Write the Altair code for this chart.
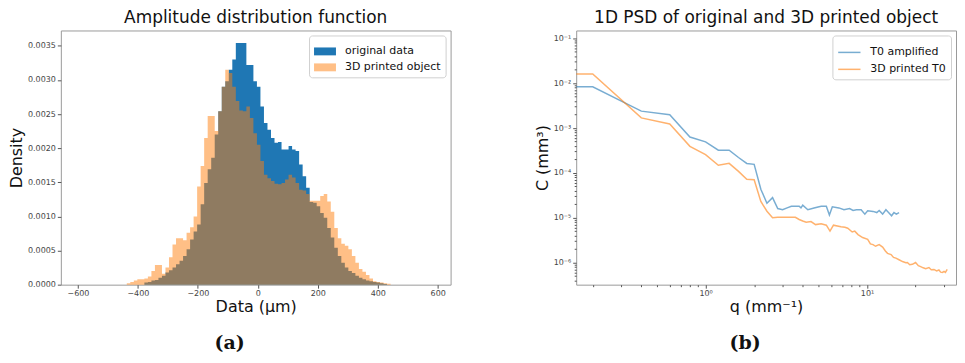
import altair as alt
import pandas as pd

# ---------------- Panel (a): histogram data ----------------
BIN_START = -437.0
BIN_WIDTH = 11.73
HIST_SERIES = ["original data", "3D printed object"]

ORIGINAL = [
    0, 0, 0, 0, 0, 0.00003, 0.00004, 0.00006, 0.00007, 0.0001,
    0.00013, 0.00018, 0.00021, 0.00025, 0.0003, 0.00035, 0.00042, 0.00052, 0.00066, 0.00078,
    0.00088, 0.00118, 0.00149, 0.00169, 0.00186, 0.0022, 0.00254, 0.0029, 0.00298, 0.00315,
    0.0033, 0.00354, 0.00354, 0.00354, 0.00322, 0.00322, 0.00298, 0.0029, 0.00261, 0.00237,
    0.00227, 0.00215, 0.00208, 0.00209, 0.00198, 0.00198, 0.00203, 0.00198, 0.00196, 0.00176,
    0.00159, 0.00142, 0.00121, 0.0012, 0.00115, 0.00105, 0.00098, 0.00083, 0.00069, 0.00054,
    0.00042, 0.00032, 0.00025, 0.0002, 0.00017, 0.00013, 0.0001, 0.00008, 0.00006, 0.00005,
    0.00004, 0.00003, 0.00002, 0.00001, 0,
]
PRINTED = [
    0.00002, 0.00004, 0.00006, 0.00008, 0.00008, 0.00009, 0.00012, 0.0002, 0.00029, 0.00029,
    0.00016, 0.00025, 0.0004, 0.00059, 0.00068, 0.00068, 0.00065, 0.00076, 0.00084, 0.001,
    0.00144, 0.00174, 0.00215, 0.00247, 0.00247, 0.00225, 0.00254, 0.0029, 0.00315, 0.0031,
    0.0029, 0.00269, 0.00255, 0.00254, 0.00261, 0.00244, 0.00222, 0.00205, 0.00181, 0.00161,
    0.00156, 0.00152, 0.00148, 0.00147, 0.00149, 0.00154, 0.00161, 0.00157, 0.00149, 0.00139,
    0.00138, 0.00133, 0.00123, 0.00123, 0.00123, 0.0013, 0.00133, 0.00122, 0.00107, 0.00083,
    0.00068, 0.0006, 0.00057, 0.00052, 0.00042, 0.00032, 0.00023, 0.00019, 0.00014, 0.00009,
    0.00005, 0.00004, 0.00003, 0.00002, 0.000015,
]

# ---------------- Panel (b): PSD data ----------------
PSD_SERIES = ["T0 amplified", "3D printed T0"]
Q_T0 = [0.158, 0.2, 0.4, 0.6, 0.8, 1.0, 1.2, 1.4, 1.6, 1.8, 2.0, 2.2, 2.4, 2.6, 2.8, 3.0,
        3.2, 3.4, 3.6, 3.8, 3.9, 4.0, 4.3, 4.7, 5.2, 5.6, 5.85, 6.1, 6.7, 7.2, 7.8, 8.2,
        8.6, 9.2, 9.7, 10.1, 10.9, 11.5, 11.9, 12.5, 13.1, 13.6, 14.2, 14.7, 15.2, 15.8]
C_T0 = [8.3e-3, 8.3e-3, 2.38e-3, 1.97e-3, 6.3e-4, 4.9e-4, 3.2e-4, 3.2e-4, 2.2e-4, 1.62e-4,
        1.55e-4, 4.3e-5, 2.1e-5, 2.8e-5, 1.6e-5, 1.5e-5, 1.65e-5, 1.8e-5, 1.8e-5, 1.8e-5,
        1.65e-5, 1.9e-5, 1.5e-5, 1.65e-5, 1.8e-5, 1.8e-5, 1.15e-5, 1.75e-5, 1.65e-5, 1.5e-5,
        1.6e-5, 1.45e-5, 1.5e-5, 1.5e-5, 1.2e-5, 1.42e-5, 1.38e-5, 1.3e-5, 1.45e-5, 1.2e-5,
        1.5e-5, 1.3e-5, 1.1e-5, 1.3e-5, 1.2e-5, 1.3e-5]
Q_3D = [0.158, 0.2, 0.4, 0.6, 0.8, 1.0, 1.2, 1.4, 1.6, 1.8, 2.0, 2.2, 2.4, 2.6, 2.8, 3.2,
        3.6, 3.8, 4.0, 4.2, 4.5, 4.8, 5.2, 5.6, 5.9, 6.2, 6.9, 7.3, 7.6, 8.1, 8.4, 8.8,
        9.4, 10.1, 10.5, 10.9, 11.3, 11.9, 12.5, 13.0, 13.4, 14.1, 14.6, 15.1, 15.8, 16.6,
        17.4, 17.8, 18.4, 19.1, 20.0, 20.8, 21.5, 22.3, 23.1, 24.2, 25.0, 26.0, 27.0, 27.9,
        28.6, 29.3, 30.0, 30.6, 31.4]
C_3D = [0.016, 0.016, 1.68e-3, 1.23e-3, 3.9e-4, 2.55e-4, 1.48e-4, 1.63e-4, 1.08e-4, 7.2e-5,
        7.0e-5, 2.3e-5, 1.39e-5, 1.0e-5, 1.02e-5, 1.02e-5, 1.02e-5, 9.1e-6, 8.4e-6, 7.9e-6,
        8.2e-6, 7.0e-6, 7.3e-6, 6.8e-6, 5.0e-6, 6.8e-6, 6.3e-6, 6.1e-6, 5.8e-6, 4.8e-6,
        5.0e-6, 4.2e-6, 3.6e-6, 3.3e-6, 2.6e-6, 2.5e-6, 2.3e-6, 2.5e-6, 2.2e-6, 1.8e-6,
        1.6e-6, 1.5e-6, 1.3e-6, 1.25e-6, 1.15e-6, 1.05e-6, 9.9e-7, 1.0e-6, 8.9e-7, 9.1e-7,
        1.0e-6, 8.5e-7, 8.1e-7, 7.6e-7, 7.3e-7, 7.7e-7, 6.9e-7, 7.0e-7, 6.5e-7, 6.8e-7,
        6.1e-7, 6.0e-7, 6.3e-7, 6.0e-7, 7.0e-7]

X_TICKS_A = [-600, -400, -200, 0, 200, 400, 600]
Y_TICKS_A = [0, 0.0005, 0.001, 0.0015, 0.002, 0.0025, 0.003, 0.0035]
X_TICKS_B = [1, 10]
Y_TICKS_B = [1e-6, 1e-5, 1e-4, 1e-3, 1e-2, 1e-1]
X_MINOR_B = [0.2, 0.3, 0.4, 0.5, 0.6, 0.7, 0.8, 0.9, 2, 3, 4, 5, 6, 7, 8, 9, 20, 30]
Y_MINOR_B = [m * 10.0 ** e for e in range(-7, -1) for m in range(2, 10)
             if 3.2e-7 <= m * 10.0 ** e <= 0.15]

# ---------------- build tables ----------------
rows = []
for name, vals in zip(HIST_SERIES, [ORIGINAL, PRINTED]):
    for i, v in enumerate(vals):
        rows.append({"x": BIN_START + BIN_WIDTH * i, "y": v, "series": name})
    rows.append({"x": BIN_START + BIN_WIDTH * len(vals), "y": 0.0, "series": name})
hist_df = pd.DataFrame(rows)

psd_rows = []
for name, qs, cs in zip(PSD_SERIES, [Q_T0, Q_3D], [C_T0, C_3D]):
    for q, c in zip(qs, cs):
        psd_rows.append({"q": q, "c": c, "series": name})
psd_df = pd.DataFrame(psd_rows)

FONT = "DejaVu Sans"
rect_path = "M-1,-0.36L1,-0.36L1,0.36L-1,0.36Z"

legend_a = alt.Legend(
    orient="top-right", offset=5, title=None, symbolType=rect_path, symbolSize=484,
    symbolStrokeWidth=0, labelFontSize=11, labelFont=FONT, labelColor="#111",
    padding=5, strokeColor="#d0d0d0", fillColor="white", cornerRadius=3,
    rowPadding=0, labelOffset=9,
)

xa = alt.X("x:Q", scale=alt.Scale(domain=[-657, 643], nice=False, zero=False),
           axis=alt.Axis(values=X_TICKS_A, title="Data (μm)", titlePadding=1, labelPadding=1))
ya = alt.Y("y:Q", scale=alt.Scale(domain=[0, 0.003724], nice=False),
           axis=alt.Axis(values=Y_TICKS_A, format=".4f", title="Density", titlePadding=3))
col_a = alt.Color("series:N", scale=alt.Scale(domain=HIST_SERIES, range=["#1f77b4", "#ff7f0e"]),
                  legend=legend_a)
op_a = alt.Opacity("series:N", scale=alt.Scale(domain=HIST_SERIES, range=[1.0, 0.5]),
                   legend=legend_a)

base_a = alt.Chart(hist_df)
layer_orig = base_a.transform_filter(alt.datum.series == HIST_SERIES[0]).mark_area(
    interpolate="step-after").encode(x=xa, y=ya, color=col_a, opacity=op_a)
layer_print = base_a.transform_filter(alt.datum.series == HIST_SERIES[1]).mark_area(
    interpolate="step-after").encode(x=xa, y=ya, color=col_a, opacity=op_a)

panel_a = alt.layer(layer_orig, layer_print).properties(
    width=391, height=255,
    title=alt.TitleParams("Amplitude distribution function", fontSize=17, font=FONT,
                          fontWeight="normal", color="#111", offset=3),
)

sup = "['⁰','¹','²','³','⁴','⁵','⁶','⁷']"
log_label = ("'10' + (datum.value < 1 ? '⁻' : '') + " + sup +
             "[abs(round(log(datum.value) / LN10))]")

xb = alt.X("q:Q", scale=alt.Scale(type="log", domain=[0.158, 35.6], nice=False),
           axis=alt.Axis(values=X_TICKS_B, labelExpr=log_label, title="q (mm⁻¹)",
                         titlePadding=1, labelPadding=1, orient="bottom"))
yb = alt.Y("c:Q", scale=alt.Scale(type="log", domain=[3.2e-7, 0.15], nice=False),
           axis=alt.Axis(values=Y_TICKS_B, labelExpr=log_label, title="C (mm³)",
                         titlePadding=3, orient="left"))
legend_b = alt.Legend(
    orient="top-right", offset=5, title=None, symbolType="stroke", symbolSize=500,
    symbolStrokeWidth=1.5, symbolOpacity=0.6, labelFontSize=11, labelFont=FONT,
    labelColor="#111", padding=5, strokeColor="#d0d0d0", fillColor="white",
    cornerRadius=3, rowPadding=0, labelOffset=9,
)
lines = alt.Chart(psd_df).mark_line(strokeWidth=1.5, opacity=0.6, clip=True).encode(
    x=xb, y=yb,
    color=alt.Color("series:N", scale=alt.Scale(domain=PSD_SERIES, range=["#1f77b4", "#ff7f0e"]),
                    legend=legend_b),
)
minor = alt.Chart(psd_df).mark_point(opacity=0).encode(
    x=alt.X("q:Q", axis=alt.Axis(values=X_MINOR_B, labels=False, tickSize=2, title=None,
                                 orient="bottom")),
    y=alt.Y("c:Q", axis=alt.Axis(values=Y_MINOR_B, labels=False, tickSize=2, title=None,
                                 orient="left")),
)
panel_b = alt.layer(lines, minor).resolve_axis(x="independent", y="independent").properties(
    width=381, height=255,
    title=alt.TitleParams("1D PSD of original and 3D printed object", fontSize=17, font=FONT,
                          fontWeight="normal", color="#111", offset=3),
)

cap_style = dict(orient="bottom", font="DejaVu Serif", fontSize=19, fontWeight="bold",
                 color="#111", offset=20, anchor="middle")
cap_a = alt.vconcat(panel_a, title=alt.TitleParams("(a)", **cap_style)).resolve_scale(
    color="independent", opacity="independent").resolve_legend(
    color="independent", opacity="independent")
cap_b = alt.vconcat(panel_b, title=alt.TitleParams("(b)", **cap_style)).resolve_scale(
    color="independent").resolve_legend(color="independent")

chart = alt.hconcat(cap_a, cap_b, spacing=82).resolve_scale(
    color="independent", opacity="independent"
).resolve_legend(color="independent", opacity="independent").properties(
    padding={"left": 0, "top": 0, "right": 0, "bottom": 0}
).configure_view(stroke="#9a9a9a", strokeWidth=1).configure_axis(
    domain=False, grid=False, tickSize=3.5, tickColor="#555", labelFontSize=8,
    labelFont=FONT, labelColor="#444", labelPadding=2, titleFont=FONT, titleFontSize=16,
    titleFontWeight="normal", titleColor="#111",
).configure_concat(spacing=0)

chart.save("out.html", embed_options={"renderer": "svg", "actions": False})
